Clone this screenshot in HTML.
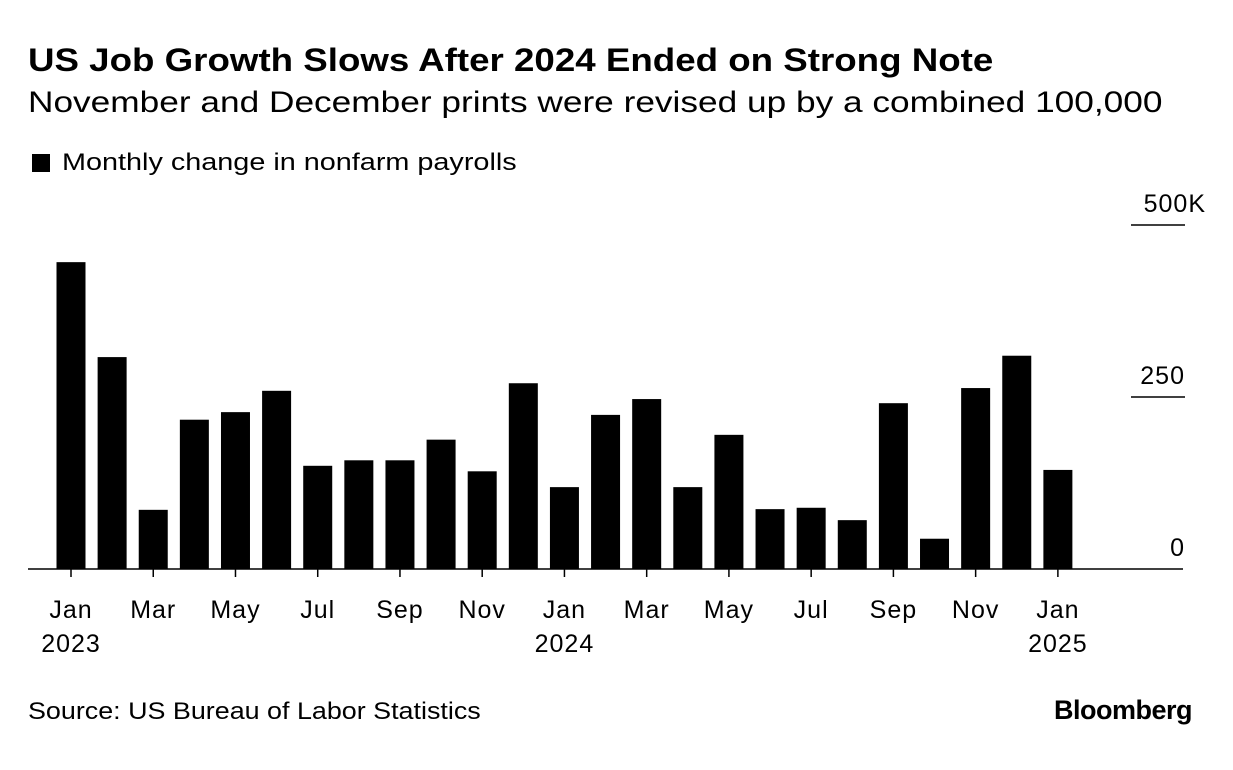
<!DOCTYPE html>
<html><head><meta charset="utf-8"><style>
body{margin:0;width:1233px;height:770px;background:#fff;font-family:"Liberation Sans",sans-serif;color:#000;overflow:hidden;position:relative}
.t{position:absolute;white-space:nowrap;transform-origin:0 0}
</style></head><body>
<div class="t" style="left:28px;top:42px;font-size:32px;font-weight:bold;transform:scaleX(1.147)">US Job Growth Slows After 2024 Ended on Strong Note</div>
<div class="t" style="left:28px;top:86px;font-size:30px;transform:scaleX(1.175)">November and December prints were revised up by a combined 100,000</div>
<div class="t" style="left:32px;top:149px;font-size:24px"><span style="display:inline-block;width:18px;height:18px;background:#000;margin-right:12px;vertical-align:-2px"></span><span style="display:inline-block;transform:scaleX(1.2);transform-origin:0 0">Monthly change in nonfarm payrolls</span></div>
<svg id="chart" width="1233" height="770" style="position:absolute;left:0;top:0"></svg>
<div class="t" style="left:28px;top:698px;font-size:24px;transform:scaleX(1.12)">Source: US Bureau of Labor Statistics</div>
<div class="t" style="left:1054px;top:695px;font-size:27px;font-weight:bold;letter-spacing:-0.5px">Bloomberg</div>
<script>
const categories=["Jan 2023","Feb 2023","Mar 2023","Apr 2023","May 2023","Jun 2023","Jul 2023","Aug 2023","Sep 2023","Oct 2023","Nov 2023","Dec 2023","Jan 2024","Feb 2024","Mar 2024","Apr 2024","May 2024","Jun 2024","Jul 2024","Aug 2024","Sep 2024","Oct 2024","Nov 2024","Dec 2024","Jan 2025"];
const values=[446,308,86,217,228,259,150,158,158,188,142,270,119,224,247,119,195,87,89,71,241,44,263,310,144];
const yTicks=[0,250,500];
const yTickLabels=["0","250","500K"];
const xLabels=[[0,"Jan","2023"],[2,"Mar",""],[4,"May",""],[6,"Jul",""],[8,"Sep",""],[10,"Nov",""],[12,"Jan","2024"],[14,"Mar",""],[16,"May",""],[18,"Jul",""],[20,"Sep",""],[22,"Nov",""],[24,"Jan","2025"]];
const NS="http://www.w3.org/2000/svg";
const svg=document.getElementById('chart');
const y=v=>569-v*0.688;
const x=i=>71+i*41.12;
function mk(t,a){const e=document.createElementNS(NS,t);for(const k in a)e.setAttribute(k,a[k]);svg.appendChild(e);return e;}
yTicks.forEach((v,i)=>{
 if(v>0){const l=mk('line',{x1:1131,x2:1185,y1:y(v),y2:y(v),stroke:'#000','stroke-width':1.5});
 
 }
 const t=mk('text',{x:1185,y:y(v)-13,'text-anchor':'end','font-size':25,'letter-spacing':1,'font-family':'Liberation Sans, sans-serif'});
 if(i==2)t.setAttribute('x',1206);
 t.textContent=yTickLabels[i];
 
 
});
values.forEach((v,i)=>{
 const r=mk('rect',{x:x(i)-14.5,y:y(v),width:29,height:569-y(v),fill:'#000'});
 
 
});
const ax=mk('line',{x1:28,x2:1183,y1:569,y2:569,stroke:'#000','stroke-width':1.5});


xLabels.forEach(([i,m,yr])=>{
 const tk=mk('line',{x1:x(i),x2:x(i),y1:569,y2:577,stroke:'#000','stroke-width':1.5});
 
 
 const t=mk('text',{x:x(i),y:618,'text-anchor':'middle','font-size':25,'letter-spacing':1,'font-family':'Liberation Sans, sans-serif'});
 t.textContent=m;
 
 
 if(yr){const t2=mk('text',{x:x(i),y:652,'text-anchor':'middle','font-size':25,'letter-spacing':1,'font-family':'Liberation Sans, sans-serif'});
 t2.textContent=yr;
 
 }
});
</script>
</body></html>
